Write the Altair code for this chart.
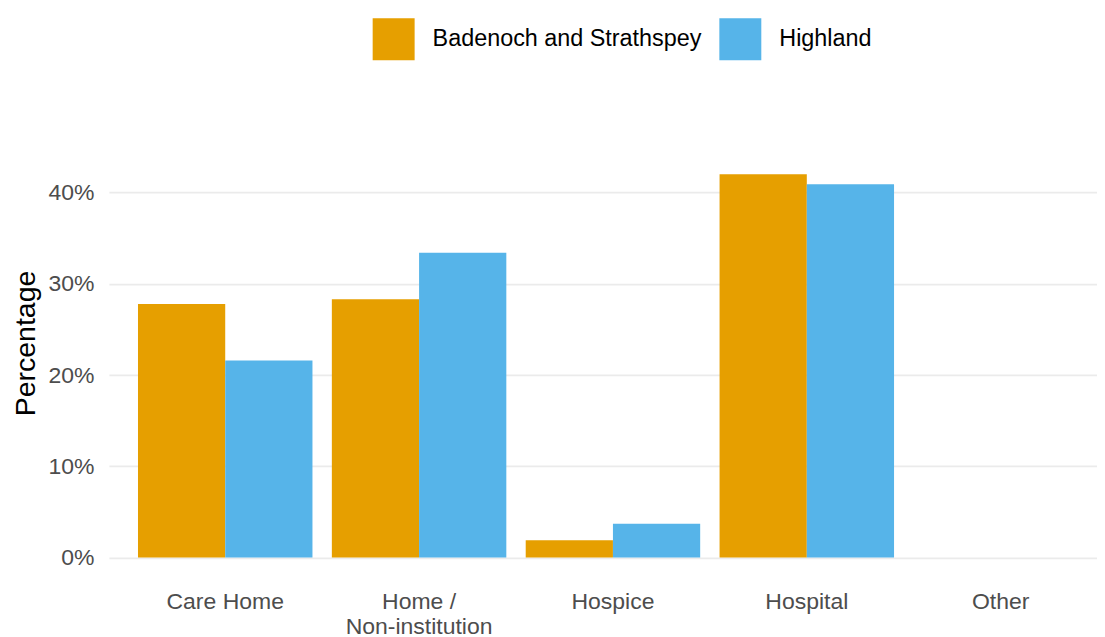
import altair as alt
import pandas as pd

categories = ["Care Home", "Home / Non-institution", "Hospice", "Hospital", "Other"]
areas = ["Badenoch and Strathspey", "Highland"]
badenoch = [27.8, 28.3, 1.9, 42.0, 0.0]
highland = [21.6, 33.4, 3.7, 40.9, 0.0]

rows = []
for c, b, h in zip(categories, badenoch, highland):
    rows.append({"place": c, "area": areas[0], "pct": b})
    rows.append({"place": c, "area": areas[1], "pct": h})
df = pd.DataFrame(rows)

font = "Liberation Sans"

chart = alt.Chart(df).mark_bar().encode(
    x=alt.X("place:N", sort=categories,
            scale=alt.Scale(paddingInner=0.1, paddingOuter=0.15),
            axis=alt.Axis(title=None, labelAngle=0, ticks=False, domain=False,
                          labelFontSize=23, labelColor="#4d4d4d", labelFont=font,
                          labelPadding=14, labelLineHeight=25, labelLimit=400,
                          labelExpr="datum.value == 'Home / Non-institution' ? ['Home /', 'Non-institution'] : datum.value")),
    xOffset=alt.XOffset("area:N", sort=areas),
    y=alt.Y("pct:Q", scale=alt.Scale(domain=[-2.1, 44.1], nice=False, zero=False),
            axis=alt.Axis(title="Percentage", values=[0, 10, 20, 30, 40],
                          labelExpr="datum.value + '%'", ticks=False, domain=False,
                          labelFontSize=23, labelColor="#4d4d4d", labelFont=font,
                          labelPadding=15, titleFontSize=28.5, titleFont=font,
                          titleFontWeight="normal", titleColor="black", titlePadding=7,
                          titleY=188,
                          gridColor="#EBEBEB", gridWidth=1.7)),
    color=alt.Color("area:N", sort=areas,
                    scale=alt.Scale(domain=areas, range=["#E69F00", "#56B4E9"]),
                    legend=alt.Legend(title=None, orient="none", direction="horizontal",
                                      legendX=264, legendY=-137,
                                      symbolType="square", symbolSize=1764,
                                      symbolStrokeWidth=0, labelFontSize=23.4,
                                      labelFont=font, labelColor="black", labelLimit=500,
                                      labelOffset=18, columnPadding=17)),
).properties(
    width=1009, height=422,
    padding={"left": 3, "top": 10, "right": -20, "bottom": 5},
).configure_view(stroke=None).configure_axisX(grid=False)

chart.save("out.html", embed_options={"renderer": "svg", "actions": False})
